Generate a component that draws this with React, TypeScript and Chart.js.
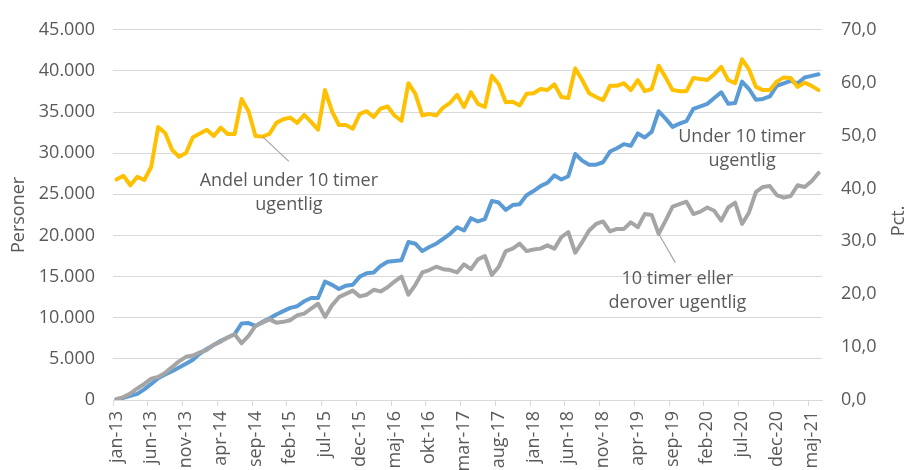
import React, { useEffect, useRef } from 'react';
import { Chart, registerables } from 'chart.js';

Chart.register(...registerables);

const MONTHS = ['jan', 'feb', 'mar', 'apr', 'maj', 'jun', 'jul', 'aug', 'sep', 'okt', 'nov', 'dec'];
const YEARS = ['13', '14', '15', '16', '17', '18', '19', '20', '21'];
const CATEGORIES = YEARS.flatMap((y) => MONTHS.map((m) => `${m}-${y}`)).slice(0, 102);
const LABEL_EVERY = 5;

// Personer, under 10 timer ugentlig (left axis)
const UNDER_10 = [
  100, 250, 500, 750, 1300, 1950, 2650, 3100, 3500, 3950,
  4400, 4900, 5650, 6200, 6700, 7200, 7600, 8000, 9300, 9350,
  9000, 9500, 9900, 10400, 10800, 11200, 11400, 12000, 12400, 12400,
  14400, 14000, 13500, 13900, 14000, 15000, 15400, 15500, 16300, 16800,
  16900, 17000, 19200, 19000, 18100, 18600, 19000, 19600, 20200, 21000,
  20600, 22100, 21700, 22000, 24200, 24000, 23100, 23700, 23800, 24900,
  25400, 26000, 26400, 27300, 26800, 27200, 29900, 29100, 28600, 28600,
  28900, 30200, 30600, 31100, 30900, 32400, 31900, 32600, 35100, 34200,
  33200, 33600, 33900, 35400, 35700, 36000, 36700, 37400, 36000, 36100,
  38700, 37800, 36500, 36600, 36900, 38200, 38500, 38800, 38500, 39200,
  39400, 39600,
];

// Personer, 10 timer eller derover ugentlig (left axis)
const OVER_10 = [
  100, 350, 800, 1400, 1950, 2600, 2800, 3300, 4000, 4700,
  5250, 5400, 5800, 6100, 6700, 7100, 7600, 8000, 6900, 7800,
  9000, 9400, 9800, 9400, 9500, 9700, 10300, 10500, 11100, 11700,
  10100, 11500, 12500, 12900, 13300, 12600, 12800, 13400, 13200, 13700,
  14400, 15000, 12800, 14000, 15500, 15800, 16200, 15900, 15800, 15500,
  16500, 15900, 17100, 17500, 15200, 16200, 18100, 18400, 19000, 18100,
  18300, 18400, 18800, 18400, 19800, 20400, 17900, 19200, 20600, 21400,
  21700, 20500, 20800, 20800, 21600, 21000, 22600, 22500, 20200, 21800,
  23500, 23800, 24100, 22600, 22900, 23400, 23000, 21800, 23400, 24000,
  21400, 22800, 25300, 25900, 26000, 24900, 24600, 24800, 26100, 25900,
  26600, 27600,
];

// Pct., andel under 10 timer ugentlig (right axis)
const SHARE_UNDER_10 = [
  41.7, 42.4, 40.6, 42.2, 41.6, 44.1, 51.6, 50.5, 47.3, 46.0,
  46.7, 49.7, 50.4, 51.1, 49.9, 51.5, 50.3, 50.3, 56.9, 54.6,
  49.9, 49.8, 50.3, 52.4, 53.1, 53.4, 52.4, 53.9, 52.6, 51.1,
  58.6, 54.6, 52.0, 52.0, 51.3, 54.1, 54.6, 53.5, 55.1, 55.5,
  53.8, 52.8, 59.9, 57.9, 53.8, 54.1, 53.8, 55.3, 56.2, 57.7,
  55.4, 58.2, 56.0, 55.4, 61.3, 59.7, 56.3, 56.4, 55.7, 57.9,
  58.0, 58.8, 58.6, 59.7, 57.3, 57.1, 62.7, 60.5, 58.0, 57.3,
  56.7, 59.4, 59.4, 59.9, 58.6, 60.5, 58.4, 58.8, 63.2, 61.0,
  58.6, 58.4, 58.4, 60.9, 60.7, 60.5, 61.6, 63.0, 60.5, 59.9,
  64.4, 62.5, 59.2, 58.6, 58.6, 60.2, 61.0, 60.9, 59.2, 60.0,
  59.4, 58.6,
];

const LEFT_TICKS = [0, 5000, 10000, 15000, 20000, 25000, 30000, 35000, 40000, 45000];
const RIGHT_TICKS = [0, 10, 20, 30, 40, 50, 60, 70];

const LEFT_TITLE = 'Personer';
const RIGHT_TITLE = 'Pct.';

// Annotation anchors expressed in data units (category index, left-axis value)
const ANNOTATIONS = [
  { lines: ['Andel under 10 timer', 'ugentlig'], index: 24.8, value: 26600, leaderFrom: { index: 21, series: 'share' }, leaderTo: { index: 24.8, value: 29000 } },
  { lines: ['Under 10 timer', 'ugentlig'], index: 90.0, value: 32000, leaderFrom: null, leaderTo: null },
  { lines: ['10 timer eller', 'derover ugentlig'], index: 80.7, value: 14700, leaderFrom: { index: 78, series: 'over' }, leaderTo: { index: 80.4, value: 16700 } },
];

const FONT = '"Open Sans", "DejaVu Sans", sans-serif';
const TEXT_COLOR = '#595959';
const GRID_COLOR = '#d9d9d9';

const fmtThousands = (v: number) => String(Math.round(v)).replace(/\B(?=(\d{3})+(?!\d))/g, '.');
const fmtPct = (v: number) => v.toFixed(1).replace('.', ',');

const overlayPlugin = {
  id: 'overlay',
  afterDatasetsDraw(chart: any) {
    const { ctx, scales, chartArea } = chart;
    const x = scales.x;
    const y = scales.y;
    const y1 = scales.y1;
    const step = x.getPixelForValue(1) - x.getPixelForValue(0);
    const x0 = x.getPixelForValue(0);
    ctx.save();
    ctx.font = `18px ${FONT}`;
    ctx.fillStyle = TEXT_COLOR;
    ctx.textAlign = 'center';
    ctx.textBaseline = 'middle';
    for (const a of ANNOTATIONS) {
      if (a.leaderFrom && a.leaderTo) {
        const i = a.leaderFrom.index;
        const px = x.getPixelForValue(i);
        const py = a.leaderFrom.series === 'share' ? y1.getPixelForValue(SHARE_UNDER_10[i]) : y.getPixelForValue(OVER_10[i]);
        const lx = x0 + a.leaderTo.index * step;
        const ly = y.getPixelForValue(a.leaderTo.value);
        ctx.strokeStyle = '#a6a6a6';
        ctx.lineWidth = 1.2;
        ctx.beginPath();
        ctx.moveTo(px, py);
        ctx.lineTo(lx, ly);
        ctx.stroke();
      }
      const cx = x0 + a.index * step;
      const cy = y.getPixelForValue(a.value);
      a.lines.forEach((line, k) => ctx.fillText(line, cx, cy + k * 24));
    }
    // axis titles
    const midY = (chartArea.top + chartArea.bottom) / 2;
    ctx.save();
    ctx.translate(19, midY);
    ctx.rotate(-Math.PI / 2);
    ctx.fillText(LEFT_TITLE, 0, 0);
    ctx.restore();
    ctx.save();
    ctx.translate(899, midY + 6);
    ctx.rotate(-Math.PI / 2);
    ctx.fillText(RIGHT_TITLE, 0, 0);
    ctx.restore();
    ctx.restore();
  },
};

export default function App() {
  const canvasRef = useRef<HTMLCanvasElement | null>(null);

  useEffect(() => {
    const canvas = canvasRef.current;
    if (!canvas) return;
    const lineStyle = { pointRadius: 0, borderWidth: 4, tension: 0, borderJoinStyle: 'round' as const, borderCapStyle: 'round' as const, fill: false };
    const chart = new Chart(canvas, {
      type: 'line',
      data: {
        labels: CATEGORIES,
        datasets: [
          { label: 'Andel under 10 timer ugentlig', data: SHARE_UNDER_10, yAxisID: 'y1', borderColor: '#FFC000', backgroundColor: '#FFC000', ...lineStyle },
          { label: '10 timer eller derover ugentlig', data: OVER_10, yAxisID: 'y', borderColor: '#A5A5A5', backgroundColor: '#A5A5A5', ...lineStyle },
          { label: 'Under 10 timer ugentlig', data: UNDER_10, yAxisID: 'y', borderColor: '#5B9BD5', backgroundColor: '#5B9BD5', ...lineStyle },
        ],
      },
      options: {
        responsive: false,
        animation: false,
        devicePixelRatio: 1,
        layout: { padding: { top: 25, left: 0, right: 0, bottom: 0 } },
        plugins: { legend: { display: false }, tooltip: { enabled: false }, title: { display: false } },
        scales: {
          x: {
            type: 'category',
            offset: true,
            grid: {
              offset: true,
              drawOnChartArea: false,
              drawTicks: true,
              tickLength: 6,
              color: (c: any) => (c.index % LABEL_EVERY === 0 ? GRID_COLOR : 'rgba(0,0,0,0)'),
              tickColor: (c: any) => (c.index % LABEL_EVERY === 0 ? GRID_COLOR : 'rgba(0,0,0,0)'),
            },
            border: { display: true, color: GRID_COLOR, width: 1 },
            ticks: {
              autoSkip: false,
              minRotation: 90,
              maxRotation: 90,
              padding: 5,
              color: TEXT_COLOR,
              font: { family: FONT, size: 18 },
              callback: (_v: any, i: number) => (i % LABEL_EVERY === 0 ? CATEGORIES[i] : ''),
            },
            afterFit: (s: any) => { s.height = 70; },
          },
          y: {
            position: 'left',
            min: 0,
            max: 45000,
            afterBuildTicks: (s: any) => { s.ticks = LEFT_TICKS.map((v) => ({ value: v })); },
            grid: { color: GRID_COLOR, lineWidth: 1, drawTicks: false },
            border: { display: false },
            ticks: { padding: 18, color: TEXT_COLOR, font: { family: FONT, size: 18 }, callback: (v: any) => fmtThousands(Number(v)) },
            afterFit: (s: any) => { s.width = 113; },
          },
          y1: {
            position: 'right',
            min: 0,
            max: 70,
            afterBuildTicks: (s: any) => { s.ticks = RIGHT_TICKS.map((v) => ({ value: v })); },
            grid: { drawOnChartArea: false, drawTicks: false },
            border: { display: false },
            ticks: { padding: 19, color: TEXT_COLOR, font: { family: FONT, size: 18 }, callback: (v: any) => fmtPct(Number(v)) },
            afterFit: (s: any) => { s.width = 90; },
          },
        },
      },
      plugins: [overlayPlugin],
    });
    return () => chart.destroy();
  }, []);

  return (
    <div style={{ position: 'absolute', left: 0, top: 0, width: 912, height: 470, background: '#fff' }}>
      <canvas ref={canvasRef} width={912} height={470} style={{ display: 'block' }} />
    </div>
  );
}
